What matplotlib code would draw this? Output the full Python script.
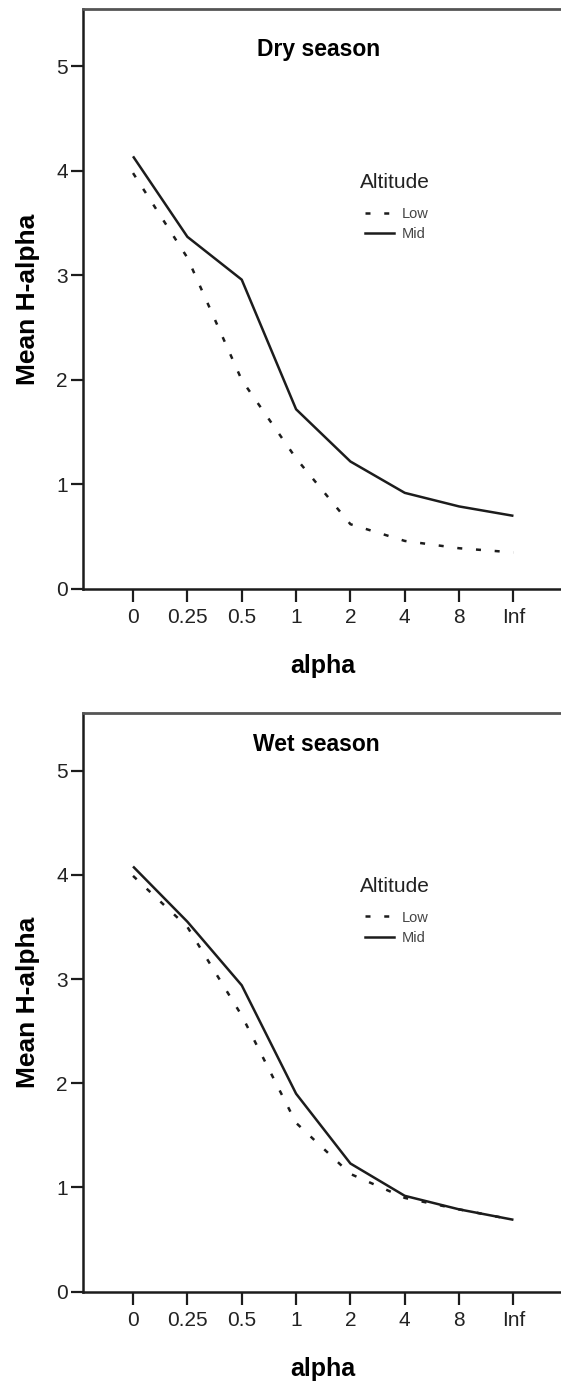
import matplotlib
matplotlib.use("Agg")
import matplotlib.pyplot as plt
from matplotlib.lines import Line2D

plt.rcParams["font.family"] = ["Liberation Sans", "DejaVu Sans"]

alpha_labels = ["0", "0.25", "0.5", "1", "2", "4", "8", "Inf"]
dry_low = [3.98, 3.17, 2.00, 1.25, 0.62, 0.46, 0.39, 0.35]
dry_mid = [4.14, 3.37, 2.96, 1.72, 1.22, 0.92, 0.79, 0.70]
wet_low = [3.99, 3.50, 2.65, 1.62, 1.13, 0.90, 0.79, 0.69]
wet_mid = [4.08, 3.55, 2.94, 1.90, 1.23, 0.92, 0.79, 0.69]
panel_titles = ["Dry season", "Wet season"]
series_names = ["Low", "Mid"]

W, H = 561, 1381
fig = plt.figure(figsize=(W / 100, H / 100), dpi=100)

# axes boxes in pixels: left, top, right, bottom
boxes = [(82.5, 9, 564, 589), (82.5, 713.3, 564, 1291.7)]
title_pos = [(0.491, 0.919), (0.485, 0.934)]
dots = (0, (2.0, 5.5))
ink = "#1c1c1c"

for k, (low, mid) in enumerate([(dry_low, dry_mid), (wet_low, wet_mid)]):
    l, t, r, b = boxes[k]
    ax = fig.add_axes([l / W, 1 - b / H, (r - l) / W, (b - t) / H])
    x = list(range(len(alpha_labels)))
    ax.plot(x, low, color=ink, lw=1.8, linestyle=dots, dash_capstyle="butt")
    ax.plot(x, mid, color=ink, lw=1.8, solid_capstyle="butt")
    ax.set_xlim(-0.93, 7.93)
    ax.set_ylim(0, 5.55)
    ax.set_xticks(x)
    ax.set_xticklabels(alpha_labels)
    ax.set_yticks([0, 1, 2, 3, 4, 5])
    ax.tick_params(axis="both", direction="out", length=9, width=1.6,
                   color=ink, labelsize=15, labelcolor="#222222")
    ax.tick_params(axis="x", pad=5)
    ax.tick_params(axis="y", pad=1.5)
    for s in ["left", "bottom"]:
        ax.spines[s].set_linewidth(1.8)
        ax.spines[s].set_color(ink)
    ax.spines["top"].set_linewidth(2.0)
    ax.spines["top"].set_color("#555555")
    ax.spines["right"].set_visible(False)
    ax.set_xlabel("alpha", fontsize=18, fontweight="bold", labelpad=19)
    ax.set_ylabel("Mean H-alpha", fontsize=19, fontweight="bold", labelpad=12)
    ax.text(title_pos[k][0], title_pos[k][1], panel_titles[k], transform=ax.transAxes,
            ha="center", va="baseline", fontsize=16.5, fontweight="bold")
    ax.text(0.576, 0.691, "Altitude", transform=ax.transAxes,
            ha="left", va="baseline", fontsize=15, color="#222222")
    handles = [Line2D([], [], color=ink, lw=1.8, linestyle=dots, dash_capstyle="butt"),
               Line2D([], [], color=ink, lw=1.8)]
    leg = ax.legend(handles, series_names, loc="upper left",
                    bbox_to_anchor=(0.587, 0.659), frameon=False,
                    fontsize=10.5, handlelength=2.0,
                    handletextpad=0.5, labelspacing=0.44, borderpad=0, borderaxespad=0)
    for txt in leg.get_texts():
        txt.set_color("#444444")

fig.savefig("out.png", dpi=100)
